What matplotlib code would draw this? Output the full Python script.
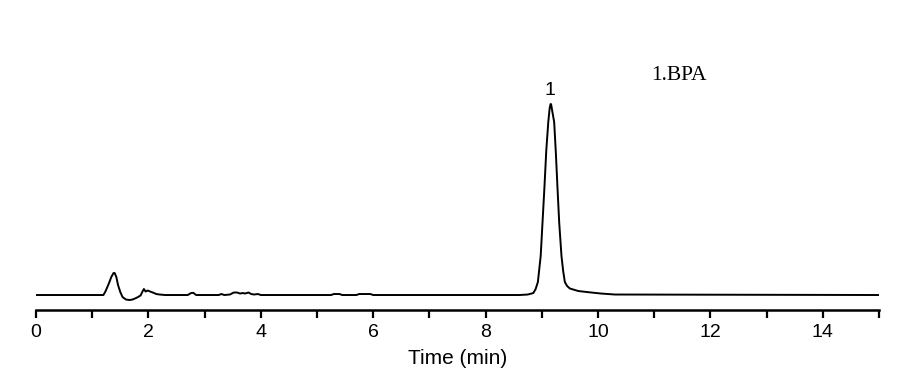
import matplotlib.pyplot as plt

# chromatogram trace (signal in arbitrary units, baseline = 0)
time_min = [0.0, 1.20, 1.24, 1.27, 1.30, 1.34, 1.38, 1.40, 1.43, 1.46, 1.50, 1.54,
            1.60, 1.66, 1.72, 1.80, 1.86, 1.90, 1.92, 1.95, 1.99, 2.03, 2.08, 2.14,
            2.20, 2.30, 2.70, 2.76, 2.80, 2.85, 3.25, 3.30, 3.35, 3.45, 3.52, 3.58,
            3.63, 3.68, 3.72, 3.78, 3.83, 3.88, 3.95, 4.00, 5.25, 5.30, 5.40, 5.45,
            5.70, 5.75, 5.95, 6.00, 8.60, 8.75, 8.85, 8.89, 8.93, 8.98, 9.01, 9.045,
            9.08, 9.115, 9.14, 9.155, 9.165, 9.18, 9.22, 9.25, 9.28, 9.31, 9.35, 9.38,
            9.41, 9.45, 9.50, 9.65, 9.80, 10.05, 10.30, 15.0]
signal = [0, 0, 4, 8, 12, 18, 22, 22, 18, 10, 3, -2,
          -4.5, -5, -4.5, -2.5, -0.5, 4, 6, 3.5, 4.5, 3.5, 2.5, 1,
          0.5, 0, 0, 2, 2.2, 0, 0, 1, 0, 0.5, 2.5, 2.5,
          1.5, 2, 1.5, 2.5, 1, 0.5, 1, 0, 0, 1, 1, 0,
          0, 1, 1, 0, 0, 0.5, 2, 6, 13, 39, 70, 106,
          145, 173, 187, 191, 191, 186, 173, 142, 106, 72, 39, 24,
          13, 9, 6.5, 4, 3, 1.5, 0.5, 0]

peak_labels = ["1"]
peak_times = [9.16]
peak_heights = [191]
legend_text = "1.BPA"

fig = plt.figure(figsize=(9.13, 3.88), dpi=100)
ax = fig.add_axes([0.0394, 0.201, 0.9234, 0.747])

ax.plot(time_min, signal, color="black", lw=1.4)

for lab, t, h in zip(peak_labels, peak_times, peak_heights):
    ax.text(t - 0.02, h + 5, lab, ha="center", va="bottom", fontsize=14,
            family="Liberation Sans")

ax.text(0.713, 0.805, legend_text, transform=fig.transFigure, ha="left", va="center",
        fontsize=15.5, family="Liberation Serif")

ax.set_xlim(0, 15)
ax.set_ylim(-15, 275)
ax.set_xticks(range(16))
ax.set_xticklabels([str(i) if i % 2 == 0 else "" for i in range(16)],
                   family="Liberation Sans", fontsize=14)
ax.tick_params(axis="x", direction="out", length=6, width=1.6, pad=4)
ax.set_yticks([])
for side in ["top", "left", "right"]:
    ax.spines[side].set_visible(False)
ax.spines["bottom"].set_linewidth(1.8)
ax.set_xlabel("Time (min)", family="Liberation Sans", fontsize=15, labelpad=6)

fig.savefig("out.png", dpi=100)
